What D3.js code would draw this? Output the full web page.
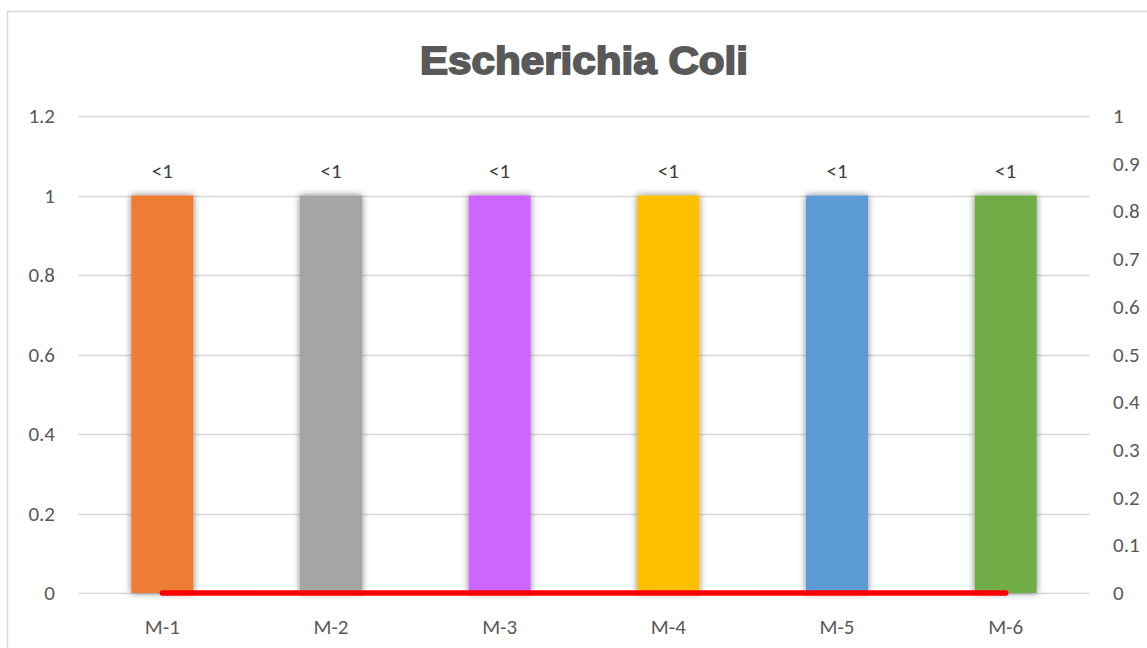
<!DOCTYPE html>
<meta charset="utf-8">
<style>
body { margin: 0; background: #fff; }
text { font-family: Carlito, "Open Sans", sans-serif; fill: #595959; }
</style>
<svg width="1147" height="648"></svg>
<script src="https://d3js.org/d3.v7.min.js"></script>
<script>

var categories = ["M-1", "M-2", "M-3", "M-4", "M-5", "M-6"];
var barValues = [1, 1, 1, 1, 1, 1];
var barLabels = ["<1", "<1", "<1", "<1", "<1", "<1"];
var barColors = ["#ED7D31", "#A5A5A5", "#CC66FF", "#FFC000", "#5B9BD5", "#70AD47"];
var lineValues = [0, 0, 0, 0, 0, 0];
var leftTicks = [0, 0.2, 0.4, 0.6, 0.8, 1, 1.2];
var rightTicks = [0, 0.1, 0.2, 0.3, 0.4, 0.5, 0.6, 0.7, 0.8, 0.9, 1];

var svg = d3.select("svg");
var plotLeft = 78, plotRight = 1090, plotTop = 116, plotBottom = 593;
var fs = "21px";

// chart frame
svg.append("rect")
  .attr("x", 7.5).attr("y", 11.5)
  .attr("width", 1160).attr("height", 660)
  .attr("fill", "none")
  .attr("stroke", "#d9d9d9")
  .attr("stroke-width", 1.5);

var x = d3.scaleBand().domain(categories).range([plotLeft, plotRight]);
var y = d3.scaleLinear().domain([0, 1.2]).range([plotBottom, plotTop]);
var y2 = d3.scaleLinear().domain([0, 1]).range([plotBottom, plotTop]);

svg.append("text")
  .attr("x", 420).attr("y", 74)
  .attr("textLength", 328)
  .attr("lengthAdjust", "spacingAndGlyphs")
  .style("font-family", "'Liberation Sans', Arial, sans-serif")
  .style("font-weight", "bold")
  .style("font-size", "38px")
  .style("fill", "#595959")
  .style("stroke", "#595959")
  .style("stroke-width", "1.8px")
  .text("Escherichia Coli");

// gridlines
svg.append("g").selectAll("line")
  .data(leftTicks)
  .join("line")
  .attr("x1", plotLeft).attr("x2", plotRight)
  .attr("y1", function(d) { return Math.round(y(d)) + 0.5; })
  .attr("y2", function(d) { return Math.round(y(d)) + 0.5; })
  .attr("stroke", "#d9d9d9")
  .attr("stroke-width", 1.3);

// left axis labels
svg.append("g").selectAll("text")
  .data(leftTicks)
  .join("text")
  .attr("x", 55)
  .attr("y", function(d) { return y(d) + 7; })
  .attr("text-anchor", "end")
  .style("font-size", fs)
  .text(function(d) { return d; });

// right axis labels
svg.append("g").selectAll("text")
  .data(rightTicks)
  .join("text")
  .attr("x", 1113)
  .attr("y", function(d) { return y2(d) + 7; })
  .style("font-size", fs)
  .text(function(d) { return d; });

var defs = svg.append("defs");
var f = defs.append("filter").attr("id", "shadow")
  .attr("x", "-30%").attr("y", "-10%").attr("width", "160%").attr("height", "120%");
f.append("feGaussianBlur").attr("in", "SourceAlpha").attr("stdDeviation", 3.5).attr("result", "b");
f.append("feFlood").attr("flood-color", "#000").attr("flood-opacity", 0.5);
f.append("feComposite").attr("in2", "b").attr("operator", "in").attr("result", "s");
var m = f.append("feMerge");
m.append("feMergeNode").attr("in", "s");
m.append("feMergeNode").attr("in", "SourceGraphic");

var bw = 62;
svg.append("g").selectAll("rect")
  .data(barValues)
  .join("rect")
  .attr("x", function(d, i) { return x(categories[i]) + x.bandwidth() / 2 - bw / 2; })
  .attr("y", function(d) { return y(d); })
  .attr("width", bw)
  .attr("height", function(d) { return plotBottom - y(d); })
  .attr("fill", function(d, i) { return barColors[i]; })
  .attr("filter", "url(#shadow)");

svg.append("g").selectAll("text")
  .data(barValues)
  .join("text")
  .attr("x", function(d, i) { return x(categories[i]) + x.bandwidth() / 2; })
  .attr("y", function(d) { return y(d) - 18; })
  .attr("text-anchor", "middle")
  .style("font-size", fs)
  .style("fill", "#404040")
  .text(function(d, i) { return barLabels[i]; });

// category labels
svg.append("g").selectAll("text")
  .data(categories)
  .join("text")
  .attr("x", function(d) { return x(d) + x.bandwidth() / 2; })
  .attr("y", 634)
  .attr("text-anchor", "middle")
  .style("font-size", fs)
  .text(function(d) { return d; });

// secondary series line
var line = d3.line()
  .x(function(d, i) { return x(categories[i]) + x.bandwidth() / 2; })
  .y(function(d) { return y2(d); });

svg.append("path")
  .datum(lineValues)
  .attr("d", line)
  .attr("fill", "none")
  .attr("stroke", "#FF0000")
  .attr("stroke-width", 5.5)
  .attr("stroke-linecap", "round");

</script>
